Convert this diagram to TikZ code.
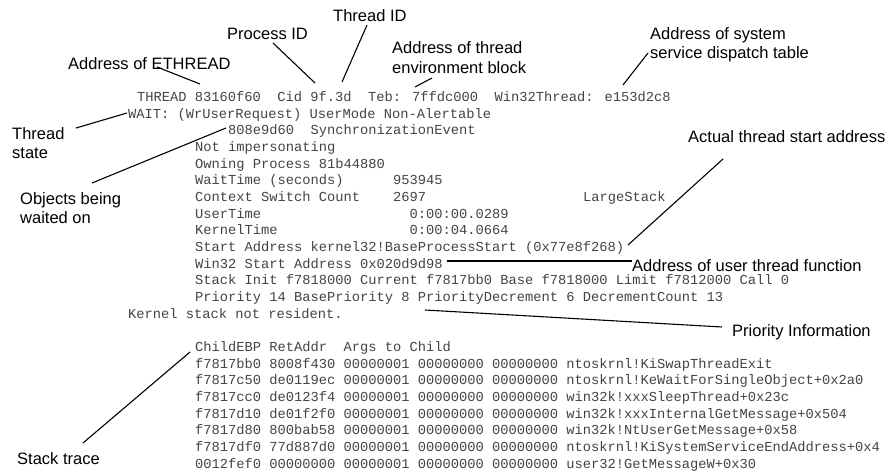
\documentclass[tikz,border=0pt]{standalone}
\usepackage{fontspec}
\setmainfont{Liberation Sans}
\newfontfamily\codefont{Liberation Mono}
\definecolor{codegray}{HTML}{444444}
\begin{document}
\begin{tikzpicture}[x=1pt,y=-1pt,
  code/.style={font=\codefont\fontsize{13.75}{16}\selectfont, text=codegray, anchor=base west, inner sep=0pt},
  lbl/.style={font=\fontsize{16.5}{19.5}\selectfont, anchor=base west, inner sep=0pt},
  conn/.style={draw=black, line width=1.1pt}]
\def\by{101.5}
\def\ls{16.67}
\fill[white] (0,0) rectangle (889,472);
\useasboundingbox (0,0) rectangle (889,472);

% ---- code listing ----
\node[code] (c0)  at (137,{\by+0*\ls})  {THREAD 83160f60~~Cid 9f.3d~~Teb: 7ffdc000~~Win32Thread: e153d2c8};
\node[code] (c1)  at (128,{\by+1*\ls})  {WAIT: (WrUserRequest) UserMode Non-Alertable};
\node[code] (c2)  at (228,{\by+2*\ls})  {808e9d60~~SynchronizationEvent};
\node[code] (c3)  at (195,{\by+3*\ls})  {Not impersonating};
\node[code] (c4)  at (195,{\by+4*\ls})  {Owning Process 81b44880};
\node[code] (c5)  at (195,{\by+5*\ls})  {WaitTime (seconds)~~~~~~953945};
\node[code] (c6)  at (195,{\by+6*\ls})  {Context Switch Count~~~~2697~~~~~~~~~~~~~~~~~~~LargeStack};
\node[code] (c7)  at (195,{\by+7*\ls})  {UserTime~~~~~~~~~~~~~~~~~~0:00:00.0289};
\node[code] (c8)  at (195,{\by+8*\ls})  {KernelTime~~~~~~~~~~~~~~~~0:00:04.0664};
\node[code] (c9)  at (195,{\by+9*\ls})  {Start Address kernel32!BaseProcessStart (0x77e8f268)};
\node[code] (c10) at (195,{\by+10*\ls}) {Win32 Start Address 0x020d9d98};
\node[code] (c11) at (195,{\by+11*\ls}) {Stack Init f7818000 Current f7817bb0 Base f7818000 Limit f7812000 Call 0};
\node[code] (c12) at (195,{\by+12*\ls}) {Priority 14 BasePriority 8 PriorityDecrement 6 DecrementCount 13};
\node[code] (c13) at (128,{\by+13*\ls}) {Kernel stack not resident.};
\node[code] (c15) at (195,{\by+15*\ls}) {ChildEBP RetAddr~~Args to Child};
\node[code] (c16) at (195,{\by+16*\ls}) {f7817bb0 8008f430 00000001 00000000 00000000 ntoskrnl!KiSwapThreadExit};
\node[code] (c17) at (195,{\by+17*\ls}) {f7817c50 de0119ec 00000001 00000000 00000000 ntoskrnl!KeWaitForSingleObject+0x2a0};
\node[code] (c18) at (195,{\by+18*\ls}) {f7817cc0 de0123f4 00000001 00000000 00000000 win32k!xxxSleepThread+0x23c};
\node[code] (c19) at (195,{\by+19*\ls}) {f7817d10 de01f2f0 00000001 00000000 00000000 win32k!xxxInternalGetMessage+0x504};
\node[code] (c20) at (195,{\by+20*\ls}) {f7817d80 800bab58 00000001 00000000 00000000 win32k!NtUserGetMessage+0x58};
\node[code] (c21) at (195,{\by+21*\ls}) {f7817df0 77d887d0 00000001 00000000 00000000 ntoskrnl!KiSystemServiceEndAddress+0x4};
\node[code] (c22) at (195,{\by+22*\ls}) {0012fef0 00000000 00000001 00000000 00000000 user32!GetMessageW+0x30};

% ---- labels ----
\node[lbl] (tid)   at (333,21)  {Thread ID};
\node[lbl] (pid)   at (227,39)  {Process ID};
\node[lbl] (eth)   at (68,69)   {Address of ETHREAD};
\node[lbl] (teba)  at (392,53)  {Address of thread};
\node[lbl] (tebb)  at (392,73)  {environment block};
\node[lbl] (ssda)  at (650,39)  {Address of system};
\node[lbl] (ssdb)  at (650,58)  {service dispatch table};
\node[lbl] (tsa)   at (12,139)  {Thread};
\node[lbl] (tsb)   at (12,158)  {state};
\node[lbl] (obja)  at (20,204)  {Objects being};
\node[lbl] (objb)  at (20,223)  {waited on};
\node[lbl] (act)   at (688,142) {Actual thread start address};
\node[lbl] (uthr)  at (632,271) {Address of user thread function};
\node[lbl] (prio)  at (732,336) {Priority Information};
\node[lbl] (stk)   at (17,464)  {Stack trace};

% ---- connector end points ----
\coordinate (ethA) at (157,67);  \coordinate (ethB) at (200,84);
\coordinate (pidA) at (273,43);  \coordinate (pidB) at (315,83);
\coordinate (tidA) at (367,25);  \coordinate (tidB) at (342,82);
\coordinate (tebA) at (432,78);  \coordinate (tebB) at (415,87);
\coordinate (ssdA) at (648,53);  \coordinate (ssdB) at (623,85);
\coordinate (tsA)  at (76,128);  \coordinate (tsB)  at (127,113);
\coordinate (objA) at (92,183);  \coordinate (objB) at (226,128);
\coordinate (actA) at (723,159); \coordinate (actB) at (628,245);
\coordinate (uthA) at (447,261); \coordinate (uthB) at (632,261);
\coordinate (prA)  at (425,310); \coordinate (prB)  at (722,327);
\coordinate (stA)  at (83,443);  \coordinate (stB)  at (190,352);

\draw[conn] (ethA) -- (ethB);
\draw[conn] (pidA) -- (pidB);
\draw[conn] (tidA) -- (tidB);
\draw[conn] (tebA) -- (tebB);
\draw[conn] (ssdA) -- (ssdB);
\draw[conn] (tsA) -- (tsB);
\draw[conn] (objA) -- (objB);
\draw[conn] (actA) -- (actB);
\draw[conn] (uthA) -- (uthB);
\draw[conn] (prA) -- (prB);
\draw[conn] (stA) -- (stB);
\end{tikzpicture}
\end{document}
